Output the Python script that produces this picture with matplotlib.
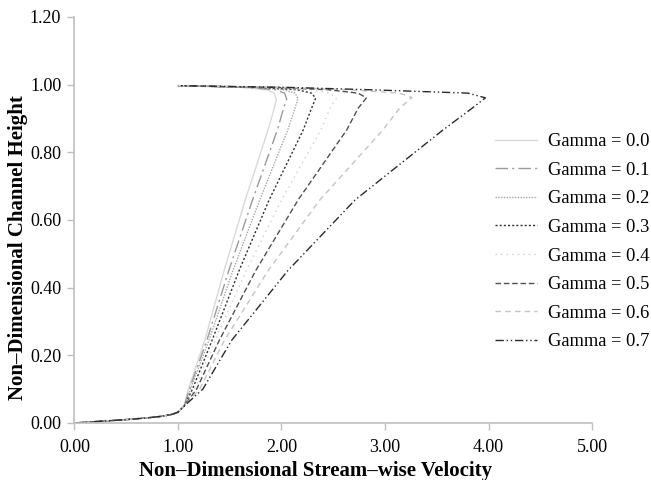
import matplotlib

matplotlib.use("Agg")
import matplotlib.pyplot as plt

plt.rcParams["font.family"] = ["Liberation Serif", "DejaVu Serif"]

gammas = [0.0, 0.1, 0.2, 0.3, 0.4, 0.5, 0.6, 0.7]

# shared near-wall part (all curves collapse here)
x_bottom = [0.0, 0.15, 0.3, 0.5, 0.7, 0.85, 0.95, 1.0, 1.06]
y_bottom = [0.0, 0.003, 0.006, 0.010, 0.015, 0.020, 0.026, 0.032, 0.05]

# rising branch, x read at fixed heights
y_rise = [0.10, 0.245, 0.45, 0.659, 0.866, 0.93]
x_rise = [
    [1.10, 1.26, 1.445, 1.65, 1.87, 1.93],
    [1.11, 1.28, 1.49, 1.72, 1.96, 2.02],
    [1.12, 1.30, 1.53, 1.79, 2.06, 2.13],
    [1.14, 1.33, 1.59, 1.88, 2.21, 2.29],
    [1.16, 1.36, 1.66, 2.00, 2.38, 2.47],
    [1.18, 1.40, 1.75, 2.16, 2.63, 2.74],
    [1.21, 1.45, 1.87, 2.37, 2.98, 3.14],
    [1.24, 1.52, 2.06, 2.71, 3.56, 3.84],
]

# velocity maximum near the top
peak_x = [1.95, 2.05, 2.16, 2.33, 2.53, 2.82, 3.26, 3.97]
peak_y = [0.955, 0.958, 0.96, 0.96, 0.96, 0.961, 0.962, 0.961]

# return branch towards the upper wall
y_top = [0.975, 0.985, 0.992, 0.997]
x_top = [
    [1.93, 1.86, 1.60, 1.0],
    [2.03, 1.94, 1.65, 1.0],
    [2.13, 2.02, 1.70, 1.0],
    [2.29, 2.15, 1.78, 1.0],
    [2.47, 2.28, 1.85, 1.0],
    [2.74, 2.45, 1.92, 1.0],
    [3.14, 2.65, 2.00, 1.0],
    [3.80, 2.85, 2.05, 1.0],
]

colors = ["#d9d9d9", "#9a9a9a", "#a6a6a6", "#303030", "#cfcfcf", "#505050", "#c4c4c4", "#2a2a2a"]
styles = [
    "-",
    (0, (9, 3, 1.5, 3)),
    (0, (1, 1)),
    (0, (1.5, 1.5)),
    (0, (1, 3)),
    (0, (4, 2)),
    (0, (4, 3)),
    (0, (6, 2, 1, 2, 1, 2)),
]

fig = plt.figure(figsize=(6.51, 4.80), dpi=100)
ax = fig.add_axes([0.1144, 0.1188, 0.7950, 0.8458])

for i, g in enumerate(gammas):
    xs = x_bottom + x_rise[i] + [peak_x[i]] + x_top[i]
    ys = y_bottom + y_rise + [peak_y[i]] + y_top
    ax.plot(xs, ys, color=colors[i], ls=styles[i], lw=1.0, label=f"Gamma = {g:.1f}")

ax.set_xlim(0, 5)
ax.set_ylim(0, 1.2)
ax.set_xticks([0, 1, 2, 3, 4, 5])
ax.set_yticks([0, 0.2, 0.4, 0.6, 0.8, 1.0, 1.2])
ax.xaxis.set_major_formatter(lambda v, p: f"{v:.2f}")
ax.yaxis.set_major_formatter(lambda v, p: f"{v:.2f}")
ax.tick_params(labelsize=13, color="#bfbfbf", length=5, width=1)
ax.tick_params(axis="x", pad=6.5)
ax.tick_params(axis="y", pad=4.5)
for s in ["top", "right"]:
    ax.spines[s].set_visible(False)
for s in ["left", "bottom"]:
    ax.spines[s].set_color("#bfbfbf")
    ax.spines[s].set_linewidth(1.2)

fig.text(0.484, 0.018, "Non\u2013Dimensional Stream\u2013wise Velocity",
         ha="center", va="center", fontsize=15, fontweight="bold")
fig.text(0.028, 0.485, "Non\u2013Dimensional Channel Height",
         ha="center", va="center", rotation=90, fontsize=15, fontweight="bold")

fig.legend(loc="upper left", bbox_to_anchor=(495 / 651, 1 - 133 / 480), frameon=False,
           fontsize=13.3, handlelength=2.3, handletextpad=0.55, labelspacing=0.63,
           borderpad=0, borderaxespad=0)

fig.savefig("out.png", dpi=100)
